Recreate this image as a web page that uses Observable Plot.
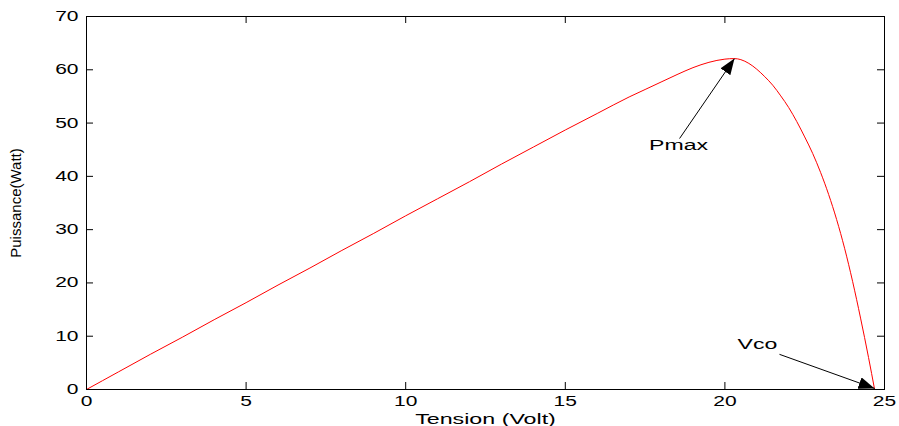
<!DOCTYPE html>
<html>
<head>
<meta charset="utf-8">
<script src="https://cdn.jsdelivr.net/npm/d3@7"></script>
<script src="https://cdn.jsdelivr.net/npm/@observablehq/plot@0.6"></script>
<style>
  html, body { margin: 0; padding: 0; background: #fff; }
  #chart svg { display: block; }
</style>
</head>
<body>
<div id="chart"></div>
<script>
// ---- data ----
const tension = [0, 1, 2, 3, 4, 5, 6, 7, 8, 9, 10, 11, 12, 13, 14, 15, 16, 17, 17.5, 18, 18.5, 19, 19.5, 20, 20.3, 20.5, 20.75, 21, 21.25, 21.5, 21.75, 22, 22.25, 22.5, 22.75, 23, 23.25, 23.5, 23.75, 24, 24.25, 24.5, 24.69];
const puissance = [0, 3.3, 6.6, 9.8, 13.1, 16.3, 19.6, 22.8, 26.1, 29.3, 32.6, 35.8, 39.0, 42.3, 45.5, 48.7, 51.8, 54.9, 56.3, 57.7, 59.1, 60.4, 61.4, 62.0, 62.1, 61.9, 61.2, 60.1, 58.7, 57.1, 55.1, 52.9, 50.3, 47.4, 44.3, 40.7, 36.6, 31.9, 26.5, 20.3, 13.4, 6.0, 0];
const xTicks = [0, 5, 10, 15, 20, 25];
const yTicks = [0, 10, 20, 30, 40, 50, 60, 70];
const annotLabels = ["Pmax", "Vco"];
const annotTextX = [18.55, 21.02];
const annotTextY = [45.8, 8.5];
const arrowX1 = [18.58, 21.71];
const arrowY1 = [47.1, 6.6];
const arrowX2 = [20.3, 24.69];
const arrowY2 = [62.1, 0.2];

const curve = tension.map((v, i) => ({v, p: puissance[i]}));
const texts = annotLabels.map((t, i) => ({t, x: annotTextX[i], y: annotTextY[i]}));
const arrows = arrowX1.map((x1, i) => ({x1, y1: arrowY1[i], x2: arrowX2[i], y2: arrowY2[i]}));

// ---- layout ----
const W = 899, H = 426;
const mL = 86, mR = 15, mT = 16, mB = 37;
const innerW = W - mL - mR, innerH = H - mT - mB;
const tickLen = 7;

function filledArrow(color, context) {
  const doc = (context && context.document) || document;
  const ns = "http://www.w3.org/2000/svg";
  const m = doc.createElementNS(ns, "marker");
  m.setAttribute("viewBox", "-16 -6 16 12");
  m.setAttribute("markerWidth", "16");
  m.setAttribute("markerHeight", "12");
  m.setAttribute("markerUnits", "userSpaceOnUse");
  m.setAttribute("orient", "auto");
  m.setAttribute("refX", "0");
  m.setAttribute("refY", "0");
  const p = doc.createElementNS(ns, "path");
  p.setAttribute("d", "M0,0L-16,-6L-16,6Z");
  p.setAttribute("fill", "black");
  p.setAttribute("stroke", "none");
  m.appendChild(p);
  return m;
}

const chart = Plot.plot({
  width: W,
  height: H,
  marginLeft: mL,
  marginRight: mR,
  marginTop: mT,
  marginBottom: mB,
  style: {fontFamily: "'Liberation Sans', Arial, sans-serif", fontSize: "14px", color: "black", background: "white"},
  x: {domain: [0, 25], ticks: xTicks, tickSize: 0, tickPadding: 7, label: "Tension (Volt)", labelAnchor: "center", labelOffset: 34, labelArrow: "none"},
  y: {domain: [0, 70], ticks: yTicks, tickSize: 0, tickPadding: 8, label: "Puissance(Watt)", labelAnchor: "center", labelOffset: 76, labelArrow: "none"},
  marks: [
    // inward ticks, all four sides
    Plot.ruleX(xTicks, {x: d => d, insetTop: innerH - tickLen, stroke: "black"}),
    Plot.ruleX(xTicks, {x: d => d, insetBottom: innerH - tickLen, stroke: "black"}),
    Plot.ruleY(yTicks, {y: d => d, insetRight: innerW - tickLen, stroke: "black"}),
    Plot.ruleY(yTicks, {y: d => d, insetLeft: innerW - tickLen, stroke: "black"}),
    Plot.line(curve, {x: "v", y: "p", stroke: "#ff0000", strokeWidth: 1, curve: "monotone-x"}),
    Plot.link(arrows, {x1: "x1", y1: "y1", x2: "x2", y2: "y2", stroke: "black", strokeWidth: 1, markerEnd: filledArrow}),
    Plot.text(texts, {x: "x", y: "y", text: "t", textAnchor: "middle", lineAnchor: "middle", fontSize: 14, fill: "black"}),
    Plot.frame({stroke: "black", strokeWidth: 1})
  ]
});

// widen text glyphs to mimic the reference's stretched font
chart.querySelectorAll("text").forEach(t => {
  const s = t.textContent.trim();
  if (s === "Puissance(Watt)") { t.setAttribute("font-size", "15"); return; }
  const k = (s === "Pmax" || s === "Vco") ? 1.65 : (s === "Tension (Volt)" ? 1.55 : 1.5);
  if (s === "Tension (Volt)") t.setAttribute("font-size", "15");
  const tr = t.getAttribute("transform") || "";
  t.setAttribute("transform", (tr + ` scale(${k},1)`).trim());
});

document.getElementById("chart").appendChild(chart);
</script>
</body>
</html>
